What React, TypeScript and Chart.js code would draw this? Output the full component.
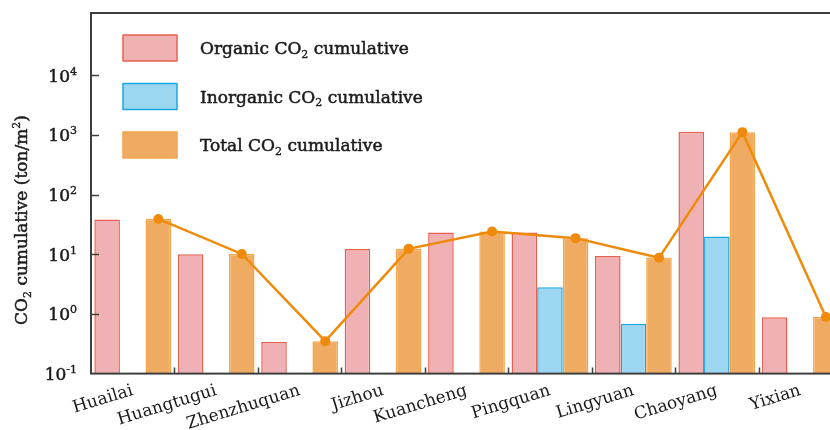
import React, { useEffect, useRef } from 'react';
import { Chart, registerables } from 'chart.js';

Chart.register(...registerables);

// Sampling sites along the x axis
const sites = ['Huailai', 'Huangtugui', 'Zhenzhuquan', 'Jizhou', 'Kuancheng', 'Pingquan', 'Lingyuan', 'Chaoyang', 'Yixian'];

// Cumulative CO2 per site (ton/m2)
const organicCO2 = [38, 10, 0.34, 12.2, 23.2, 23.2, 9.3, 1130, 0.88];
const inorganicCO2: (number | null)[] = [null, null, null, null, null, 2.8, 0.68, 19.9, null];
const totalCO2 = [39, 10.1, 0.35, 12.3, 24, 18.6, 8.7, 1110, 0.89];

// Powers of ten labelled on the log axis
const decadeExponents = [-1, 0, 1, 2, 3, 4];

const FONT = '"DejaVu Serif", "Liberation Serif", serif';
const SIZE = 17;
const HEAVY = 0.5; // extra stroke width that thickens the serif glyphs a little
const TEXT = '#1c1a1b';
const AXIS = '#3f3f3f';

const PINK_FILL = '#f0b1b4';
const PINK_EDGE = '#e8604f';
const BLUE_FILL = '#9dd6f0';
const BLUE_EDGE = '#1aa8e2';
const ORANGE_FILL = '#f0ab62';
const ORANGE_EDGE = '#f5a54b';
const LINE = '#f08a0a';

type Seg = { t: string; k?: 'sub' | 'sup' };

function segFont(size: number, k?: 'sub' | 'sup') {
  return k ? `${Math.round(size * 0.62)}px ${FONT}` : `${size}px ${FONT}`;
}

function richWidth(ctx: CanvasRenderingContext2D, segs: Seg[], size: number) {
  let w = 0;
  for (const s of segs) {
    ctx.font = segFont(size, s.k);
    w += ctx.measureText(s.t).width;
  }
  return w;
}

function drawRich(
  ctx: CanvasRenderingContext2D,
  segs: Seg[],
  x: number,
  y: number,
  size: number,
  align: 'left' | 'center' | 'right'
) {
  const w = richWidth(ctx, segs, size);
  let cx = align === 'left' ? x : align === 'center' ? x - w / 2 : x - w;
  ctx.textAlign = 'left';
  ctx.textBaseline = 'alphabetic';
  ctx.strokeStyle = TEXT;
  ctx.fillStyle = TEXT;
  ctx.lineJoin = 'round';
  for (const s of segs) {
    ctx.font = segFont(size, s.k);
    const dy = s.k === 'sub' ? size * 0.22 : s.k === 'sup' ? -size * 0.42 : 0;
    ctx.lineWidth = s.k ? HEAVY * 0.7 : HEAVY;
    ctx.strokeText(s.t, cx, y + dy);
    ctx.fillText(s.t, cx, y + dy);
    cx += ctx.measureText(s.t).width;
  }
}

const legendItems: { segs: Seg[]; fill: string; edge: string }[] = [
  { segs: [{ t: 'Organic CO' }, { t: '2', k: 'sub' }, { t: ' cumulative' }], fill: PINK_FILL, edge: PINK_EDGE },
  { segs: [{ t: 'Inorganic CO' }, { t: '2', k: 'sub' }, { t: ' cumulative' }], fill: BLUE_FILL, edge: BLUE_EDGE },
  { segs: [{ t: 'Total CO' }, { t: '2', k: 'sub' }, { t: ' cumulative' }], fill: ORANGE_FILL, edge: ORANGE_EDGE },
];

const axisTitle: Seg[] = [
  { t: 'CO' },
  { t: '2', k: 'sub' },
  { t: ' cumulative (ton/m' },
  { t: '2', k: 'sup' },
  { t: ')' },
];

const decorPlugin = {
  id: 'decor',
  afterDatasetsUpdate(chart: any) {
    // Put each point of the total line on top of its total bar
    const barMeta = chart.getDatasetMeta(2);
    const lineMeta = chart.getDatasetMeta(3);
    lineMeta.data.forEach((pt: any, i: number) => {
      const b = barMeta.data[i];
      if (b) pt.x = b.x;
    });
  },
  afterDraw(chart: any) {
    const ctx: CanvasRenderingContext2D = chart.ctx;
    const { left, right, top, bottom } = chart.chartArea;
    const xs = chart.scales.x;
    const ys = chart.scales.y;
    ctx.save();

    // frame
    ctx.strokeStyle = AXIS;
    ctx.lineWidth = 2;
    ctx.strokeRect(left, top, right - left, bottom - top);

    // inward ticks on the y axis
    ctx.lineWidth = 1.5;
    ctx.beginPath();
    for (const e of decadeExponents) {
      if (e === decadeExponents[0]) continue;
      const y = Math.round(ys.getPixelForValue(Math.pow(10, e))) + 0.5;
      ctx.moveTo(left, y);
      ctx.lineTo(left + 8, y);
    }
    // inward ticks between categories
    for (let i = 0; i < sites.length - 1; i++) {
      const x = Math.round((xs.getPixelForValue(i) + xs.getPixelForValue(i + 1)) / 2) + 0.5;
      ctx.moveTo(x, bottom);
      ctx.lineTo(x, bottom - 6);
    }
    ctx.stroke();

    // y tick labels with superscript exponents
    for (const e of decadeExponents) {
      const y = ys.getPixelForValue(Math.pow(10, e));
      drawRich(ctx, [{ t: '10' }, { t: String(e), k: 'sup' }], 77, y + 6.5, SIZE, 'right');
    }

    // y axis title
    ctx.save();
    ctx.translate(27, 220);
    ctx.rotate(-Math.PI / 2);
    drawRich(ctx, axisTitle, 0, 0, SIZE, 'center');
    ctx.restore();

    // legend
    legendItems.forEach((it, i) => {
      const by = 35 + i * 48.5;
      ctx.fillStyle = it.fill;
      ctx.fillRect(123, by, 54, 26);
      ctx.strokeStyle = it.edge;
      ctx.lineWidth = 1.5;
      ctx.strokeRect(123, by, 54, 26);
      drawRich(ctx, it.segs, 200, by + 13 + 6, SIZE, 'left');
    });

    ctx.restore();
  },
};

export default function App() {
  const canvasRef = useRef<HTMLCanvasElement | null>(null);

  useEffect(() => {
    if (!canvasRef.current) return;
    const chart = new Chart(canvasRef.current, {
      type: 'bar',
      data: {
        labels: sites,
        datasets: [
          {
            label: 'Organic CO2 cumulative',
            data: organicCO2,
            backgroundColor: PINK_FILL,
            borderColor: PINK_EDGE,
            borderWidth: 1.5,
            order: 1,
          },
          {
            label: 'Inorganic CO2 cumulative',
            data: inorganicCO2,
            backgroundColor: BLUE_FILL,
            borderColor: BLUE_EDGE,
            borderWidth: 1.5,
            order: 1,
          },
          {
            label: 'Total CO2 cumulative',
            data: totalCO2,
            backgroundColor: ORANGE_FILL,
            borderColor: ORANGE_EDGE,
            borderWidth: 1.5,
            order: 1,
          },
          {
            type: 'line',
            label: 'Total CO2 trend',
            data: totalCO2,
            borderColor: LINE,
            backgroundColor: LINE,
            borderWidth: 2.5,
            pointRadius: 5,
            pointBackgroundColor: LINE,
            pointBorderWidth: 0,
            tension: 0,
            order: 0,
          } as any,
        ],
      },
      options: {
        animation: false,
        responsive: false,
        layout: { padding: { left: 0, top: 13, right: 18, bottom: 0 } },
        datasets: {
          bar: { categoryPercentage: 0.92, barPercentage: 1 },
        } as any,
        plugins: {
          legend: { display: false },
          tooltip: { enabled: false },
        },
        scales: {
          x: {
            type: 'category',
            grid: { display: false },
            border: { display: false },
            ticks: {
              autoSkip: false,
              minRotation: 17,
              maxRotation: 17,
              padding: -1,
              color: TEXT,
              font: { family: FONT, size: SIZE },
            },
            afterFit: (s: any) => {
              s.height = 56.4;
            },
          },
          y: {
            type: 'logarithmic',
            min: 0.1,
            max: 110000,
            grid: { display: false },
            border: { display: false },
            ticks: { display: false },
            afterFit: (s: any) => {
              s.width = 91;
            },
          },
        },
      },
      plugins: [decorPlugin],
    });
    return () => chart.destroy();
  }, []);

  return (
    <div
      style={{
        position: 'fixed',
        left: 0,
        top: 0,
        width: 830,
        height: 430,
        overflow: 'hidden',
        background: '#fff',
      }}
    >
      <canvas ref={canvasRef} width={860} height={430} style={{ display: 'block' }} />
    </div>
  );
}
